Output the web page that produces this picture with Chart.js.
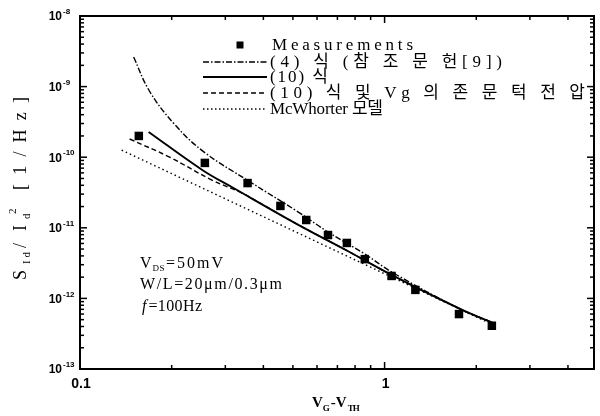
<!DOCTYPE html>
<html>
<head>
<meta charset="utf-8">
<script src="https://cdn.jsdelivr.net/npm/chart.js@4.4.0/dist/chart.umd.min.js"></script>
<style>
  body { margin: 0; background: #fff; }
  #wrap { width: 600px; height: 416px; }
</style>
</head>
<body>
<div id="wrap"><canvas id="noiseChart" width="600" height="416"></canvas></div>
<script>
"use strict";

// Measurements (V_G - V_TH vs S_Id / Id^2)
const measX = [0.156, 0.257, 0.355, 0.455, 0.553, 0.652, 0.752, 0.861, 1.054, 1.262, 1.755, 2.25];
const measY = [2.0e-10, 8.3e-11, 4.3e-11, 2.04e-11, 1.29e-11, 7.9e-12, 6.1e-12, 3.6e-12, 2.08e-12, 1.32e-12, 6.0e-13, 4.1e-13];

// eq. (4), ref [9]
const eq4X = [0.150, 0.169, 0.204, 0.255, 0.358, 0.521, 0.652, 0.861, 1.054, 1.769, 2.25];
const eq4Y = [2.62e-9, 8.66e-10, 2.95e-10, 1.19e-10, 4.6e-11, 1.67e-11, 8.72e-12, 4.26e-12, 2.37e-12, 7.1e-13, 4.6e-13];

// eq. (10)
const eq10X = [0.168, 0.252, 0.315, 0.521, 0.746, 1.054, 1.769, 2.265];
const eq10Y = [2.28e-10, 6.6e-11, 3.78e-11, 1.10e-11, 4.85e-12, 2.15e-12, 7.1e-13, 4.5e-13];

// eq. (10) with Vg dependent threshold voltage
const eq10VgX = [0.1455, 0.196, 0.271, 0.340, 0.416, 0.521, 0.746, 1.054, 1.769, 2.265];
const eq10VgY = [1.81e-10, 1.01e-10, 4.75e-11, 3.11e-11, 1.91e-11, 1.10e-11, 4.85e-12, 2.15e-12, 7.1e-13, 4.5e-13];

// McWhorter model
const mcwX = [0.137, 0.521, 2.25];
const mcwY = [1.26e-10, 8.4e-12, 4.3e-13];

// axes
const xMin = 0.1, xMax = 4.87;
const yMin = 1e-13, yMax = 1e-8;
const xTickValues = [0.1, 1];
const xTickLabels = ["0.1", "1"];
const yTickExps = [-8, -9, -10, -11, -12, -13];

const legendLabels = [
    "Measurements",
    "(4) 식 (참 조 문 헌[9])",
    "(10) 식",
    "(10) 식 및 Vg 의 존 문 턱 전 압",
    "McWhorter 모델"
];

const serif = '"Liberation Serif", "Noto Sans CJK KR", serif';
const sans = '"Liberation Sans", Arial, sans-serif';

function toPoints(xs, ys) {
    return xs.map((x, i) => ({ x: x, y: ys[i] }));
}

// draw a string char by char so it fills a given width
function spacedText(ctx, str, x, y, width) {
    const chars = [...str];
    const natural = chars.reduce((s, c) => s + ctx.measureText(c).width, 0);
    const extra = chars.length > 1 ? (width - natural) / (chars.length - 1) : 0;
    let cx = x;
    chars.forEach(c => {
        ctx.fillText(c, cx, y);
        cx += ctx.measureText(c).width + extra;
    });
    return cx;
}

function seg(ctx, x1, y1, x2, y2) {
    ctx.beginPath();
    ctx.moveTo(x1, y1);
    ctx.lineTo(x2, y2);
    ctx.stroke();
}

const decorPlugin = {
    id: "decor",
    afterDraw(chart) {
        const ctx = chart.ctx;
        const xs = chart.scales.x, ys = chart.scales.y;
        const { left, right, top, bottom } = chart.chartArea;
        ctx.save();
        ctx.strokeStyle = "#000";
        ctx.fillStyle = "#000";

        // frame
        ctx.lineWidth = 2;
        ctx.strokeRect(left, top, right - left, bottom - top);

        // inward ticks
        ctx.lineWidth = 1.5;
        for (let e = -13; e <= -8; e++) {
            for (let m = 1; m <= 9; m++) {
                if (e === -8 && m > 1) break;
                const py = ys.getPixelForValue(m * Math.pow(10, e));
                const len = m === 1 ? 7 : 4;
                seg(ctx, left, py, left + len, py);
                seg(ctx, right, py, right - len, py);
            }
        }
        for (let e = -1; e <= 0; e++) {
            for (let m = 1; m <= 9; m++) {
                const v = m * Math.pow(10, e);
                if (v > xMax) break;
                const px = xs.getPixelForValue(v);
                const len = m === 1 ? 7 : 4;
                seg(ctx, px, bottom, px, bottom - len);
                seg(ctx, px, top, px, top + len);
            }
        }

        // tick labels
        ctx.font = "bold 14px " + sans;
        ctx.textAlign = "center";
        ctx.textBaseline = "middle";
        xTickValues.forEach((v, i) => {
            ctx.fillText(xTickLabels[i], xs.getPixelForValue(v) + 1, 384);
        });
        yTickExps.forEach(e => {
            const py = ys.getPixelForValue(Math.pow(10, e));
            ctx.font = "bold 12px " + sans;
            ctx.textAlign = "right";
            ctx.fillText("10", 62, py + 1);
            ctx.font = "bold 8px " + sans;
            ctx.textAlign = "left";
            ctx.fillText(String(e), 63, py - 4);
        });

        // legend
        const rowY = [45, 62, 77, 93, 109];
        const textW = [141, 232, 58, 315, 113];
        ctx.font = "17px " + serif;
        ctx.textAlign = "left";
        ctx.textBaseline = "middle";
        ctx.fillRect(236.5, rowY[0] - 3.5, 7, 7);
        const sampleStyles = [null, [6, 2, 1.5, 2], [], [5, 3], [1.5, 2.5]];
        for (let i = 1; i < 5; i++) {
            ctx.setLineDash(sampleStyles[i]);
            ctx.lineWidth = i === 2 ? 1.8 : 1.3;
            seg(ctx, 203, rowY[i], 267, rowY[i]);
        }
        ctx.setLineDash([]);
        legendLabels.forEach((t, i) => {
            spacedText(ctx, t, i === 0 ? 272 : 270, rowY[i] + 1, textW[i]);
        });

        // condition text
        ctx.textBaseline = "alphabetic";
        ctx.font = "16px " + serif;
        let cx = spacedText(ctx, "V", 140, 268, 11);
        ctx.font = "9px " + serif;
        cx = spacedText(ctx, "DS", cx + 1, 271, 12);
        ctx.font = "16px " + serif;
        spacedText(ctx, "=50mV", cx + 1, 268, 223 - cx - 1);
        spacedText(ctx, "W/L=20μm/0.3μm", 140, 289, 142);
        ctx.font = "italic 16px " + serif;
        cx = spacedText(ctx, "f", 142, 311, 5);
        ctx.font = "16px " + serif;
        spacedText(ctx, "=100Hz", cx + 2, 311, 202 - cx - 2);

        // x axis title
        ctx.font = "bold 15px " + serif;
        cx = spacedText(ctx, "V", 312, 407, 11);
        ctx.font = "bold 9px " + serif;
        cx = spacedText(ctx, "G", cx, 411, 6);
        ctx.font = "bold 15px " + serif;
        cx = spacedText(ctx, "-", cx + 1, 407, 5);
        cx = spacedText(ctx, "V", cx, 407, 11);
        ctx.font = "bold 9px " + serif;
        spacedText(ctx, "TH", cx + 1, 411, 12);

        // y axis title (rotated, reading upward)
        ctx.translate(26, 280);
        ctx.rotate(-Math.PI / 2);
        ctx.font = "18px " + serif;
        spacedText(ctx, "S", 0, 0, 12);
        ctx.font = "11px " + serif;
        spacedText(ctx, "Id", 16, 4, 12);
        ctx.font = "18px " + serif;
        spacedText(ctx, "/", 32, 0, 8);
        spacedText(ctx, "I", 49, 0, 7);
        ctx.font = "11px " + serif;
        spacedText(ctx, "d", 61, 4, 6);
        spacedText(ctx, "2", 66, -10, 6);
        ctx.font = "18px " + serif;
        spacedText(ctx, "[1/Hz]", 90, 0, 93);

        ctx.restore();
    }
};

const ctx1 = document.getElementById("noiseChart").getContext("2d");

const lineBase = {
    showLine: true,
    pointRadius: 0,
    borderColor: "#000",
    backgroundColor: "#000",
    borderWidth: 1.4,
    tension: 0.4
};

let data1 = {
    datasets: [
        {
            label: legendLabels[0],
            data: toPoints(measX, measY),
            pointStyle: "rect",
            pointRadius: 6,
            backgroundColor: "#000",
            borderColor: "#000",
            borderWidth: 0,
            showLine: false
        },
        Object.assign({}, lineBase, { label: legendLabels[1], data: toPoints(eq4X, eq4Y), borderDash: [6, 2, 1.5, 2] }),
        Object.assign({}, lineBase, { label: legendLabels[2], data: toPoints(eq10X, eq10Y), borderWidth: 1.9 }),
        Object.assign({}, lineBase, { label: legendLabels[3], data: toPoints(eq10VgX, eq10VgY), borderDash: [5, 3] }),
        Object.assign({}, lineBase, { label: legendLabels[4], data: toPoints(mcwX, mcwY), borderDash: [1.5, 3], tension: 0 })
    ]
};

let config1 = {
    type: "scatter",
    data: data1,
    options: {
        responsive: false,
        animation: false,
        devicePixelRatio: 1,
        layout: { padding: { left: 80, top: 16, right: 2, bottom: 47 } },
        plugins: {
            legend: { display: false },
            tooltip: { enabled: false }
        },
        scales: {
            x: { type: "logarithmic", min: xMin, max: xMax, display: false },
            y: { type: "logarithmic", min: yMin, max: yMax, display: false }
        }
    },
    plugins: [decorPlugin]
};

let myChart1 = new Chart(ctx1, config1);
</script>
</body>
</html>
